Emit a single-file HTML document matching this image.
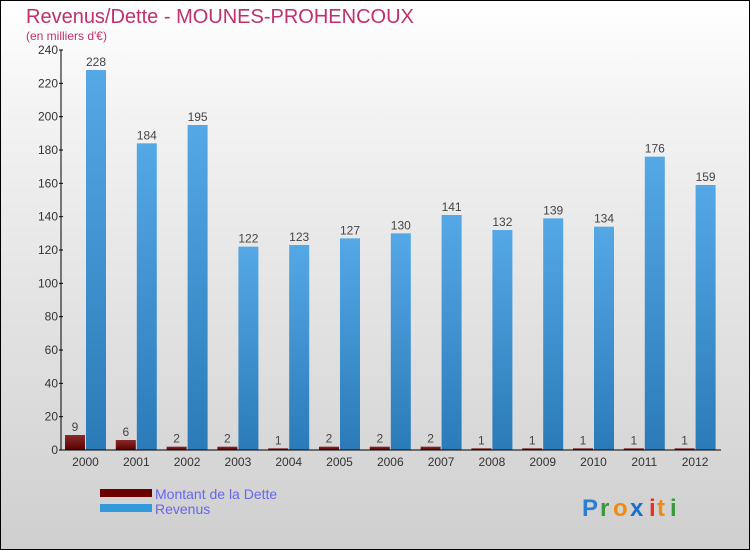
<!DOCTYPE html>
<html><head><meta charset="utf-8"><style>
html,body{margin:0;padding:0}
body{width:750px;height:550px;overflow:hidden;font-family:"Liberation Sans",sans-serif}
#wrap{position:absolute;left:0;top:0;width:748px;height:548px;border:1px solid #000;background:linear-gradient(#fff,#f3f3f3 20%,#cfcfcf)}
</style></head><body>
<div id="wrap">
<svg id="chart" width="750" height="550" style="position:absolute;left:-1px;top:-1px">
<defs>
<linearGradient id="gb" x1="0" y1="0" x2="0" y2="1"><stop offset="0" stop-color="#55a8e6"/><stop offset="1" stop-color="#2a7bb8"/></linearGradient>
<linearGradient id="gr" x1="0" y1="0" x2="0" y2="1"><stop offset="0" stop-color="#8a2a2a"/><stop offset="1" stop-color="#5a0000"/></linearGradient>
</defs>
<text x="26" y="23" font-size="20" fill="#c0306a">Revenus/Dette - MOUNES-PROHENCOUX</text>
<text x="26" y="40" font-size="12" fill="#c0306a">(en milliers d'€)</text>
<g id="bars"></g>
<g id="axes"></g>
<g>
<rect x="100" y="489" width="52" height="8" fill="#6a0000"/>
<text x="155" y="499" font-size="14" fill="#6666ee">Montant de la Dette</text>
<rect x="100" y="504" width="52" height="8" fill="#3399dd"/>
<text x="155" y="514" font-size="14" fill="#6666ee">Revenus</text>
</g>
<g font-size="24" font-weight="bold">
<text x="582" y="516" fill="#2a7fd4">P</text><text x="600" y="516" fill="#3a9a3a">r</text><text x="613" y="516" fill="#f08a10">o</text><text x="630" y="516" fill="#1a6fcc">x</text><text x="649" y="516" fill="#e83020">i</text><text x="657" y="516" fill="#f08a10">t</text><text x="670" y="516" fill="#3a9a3a">i</text>
</g>
</svg>
</div>
<script>
const years=["2000","2001","2002","2003","2004","2005","2006","2007","2008","2009","2010","2011","2012"];
const debt=[9,6,2,2,1,2,2,2,1,1,1,1,1];
const revenue=[228,184,195,122,123,127,130,141,132,139,134,176,159];
const yTicks=[0,20,40,60,80,100,120,140,160,180,200,220,240];
const NS="http://www.w3.org/2000/svg";
const y0=450,yTop=50,yMax=240,x0=61,xEnd=721;
function yS(v){return y0-(v/yMax)*(y0-yTop);}
function xC(i){return 85.5+i*50.8;}
function mk(t,a,p){const e=document.createElementNS(NS,t);for(const k in a)e.setAttribute(k,a[k]);p.appendChild(e);return e;}
const bars=document.getElementById('bars'),axes=document.getElementById('axes');
years.forEach((yr,i)=>{
  const c=xC(i);
  const d=mk('rect',{x:c-20.5,y:yS(debt[i]),width:20,height:y0-yS(debt[i]),fill:'url(#gr)'},bars);
  
  
  const r=mk('rect',{x:c+0.5,y:yS(revenue[i]),width:20,height:y0-yS(revenue[i]),fill:'url(#gb)'},bars);
  
  
  const dl=mk('text',{x:c-10.5,y:yS(debt[i])-4,'font-size':12,fill:'#444','text-anchor':'middle'},bars);dl.textContent=debt[i];
  
  
  const rl=mk('text',{x:c+10.5,y:yS(revenue[i])-4,'font-size':12,fill:'#444','text-anchor':'middle'},bars);rl.textContent=revenue[i];
  
  
  const xl=mk('text',{x:c,y:466,'font-size':12,fill:'#333','text-anchor':'middle'},axes);xl.textContent=yr;
  
  
});
const ya=mk('line',{x1:x0,y1:yTop,x2:x0,y2:y0,stroke:'#000'},axes);


const xa=mk('line',{x1:x0,y1:y0,x2:xEnd,y2:y0,stroke:'#000'},axes);


yTicks.forEach(v=>{
  mk('line',{x1:x0-2,y1:yS(v),x2:x0+2,y2:yS(v),stroke:'#000'},axes);
  const t=mk('text',{x:x0-3,y:yS(v)+4,'font-size':12,fill:'#333','text-anchor':'end'},axes);t.textContent=v;
  
  
});
</script>
</body></html>
